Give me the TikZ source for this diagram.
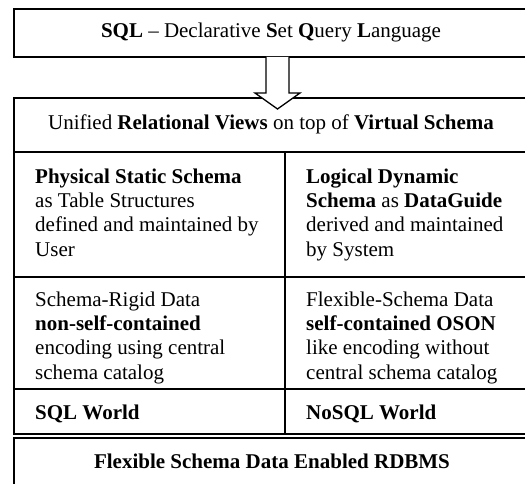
\documentclass[tikz,border=0pt]{standalone}
\usepackage{fontspec}
\setmainfont{Liberation Serif}
\begin{document}
\begin{tikzpicture}[x=1pt,y=-1pt,
  frame/.style={line width=1.4pt},
  txt/.style={font=\fontsize{21}{24.3}\selectfont, inner sep=0pt},
  cell/.style={txt, anchor=north west, align=left},
]
\useasboundingbox (0,0) rectangle (525,484);
\fill[white] (0,0) rectangle (525,484);
% top box
\draw[frame] (14,9) rectangle (545,57);
% table
\draw[frame] (14,98) rectangle (545,434);
\draw[frame] (14,152) -- (545,152);
\draw[frame] (14,277) -- (545,277);
\draw[frame] (14,389) -- (545,389);
\draw[frame] (285,152) -- (285,434);
% bottom box
\draw[frame] (14,438) rectangle (545,520);
% block arrow
\coordinate (ashaftL) at (266,57);
\coordinate (ashaftR) at (289,57);
\fill[white] (266,57) -- (266,93) -- (255,93) -- (277.5,109) -- (300,93) -- (289,93) -- (289,57) -- cycle;
\draw[line width=1.3pt, line join=miter] (ashaftL) -- (266,93) -- (255,93) -- (277.5,109) -- (300,93) -- (289,93) -- (ashaftR);
% texts
\node[txt, anchor=base] (sql) at (271,38) {\textbf{SQL} – Declarative \textbf{S}et \textbf{Q}uery \textbf{L}anguage};
\node[txt, anchor=base] (views) at (271,130) {Unified \textbf{Relational Views} on top of \textbf{Virtual Schema}};
\node[cell] (phys) at (35,166) {\strut\textbf{Physical Static Schema}\\as Table Structures\\defined and maintained by\\User};
\node[cell] (logi) at (306,166) {\strut\textbf{Logical Dynamic}\\\textbf{Schema} as \textbf{DataGuide}\\derived and maintained\\by System};
\node[cell] (rigid) at (35,289) {\strut Schema-Rigid Data\\\textbf{non-self-contained}\\encoding using central\\schema catalog};
\node[cell] (flex) at (306,289) {\strut Flexible-Schema Data\\\textbf{self-contained OSON}\\like encoding without\\central schema catalog};
\node[txt, anchor=base west] (sqlw) at (35,419) {\textbf{SQL World}};
\node[txt, anchor=base west] (nosqlw) at (306,419) {\textbf{NoSQL World}};
\node[txt, anchor=base] (rdbms) at (272,468) {\textbf{Flexible Schema Data Enabled RDBMS}};
\end{tikzpicture}
\end{document}
